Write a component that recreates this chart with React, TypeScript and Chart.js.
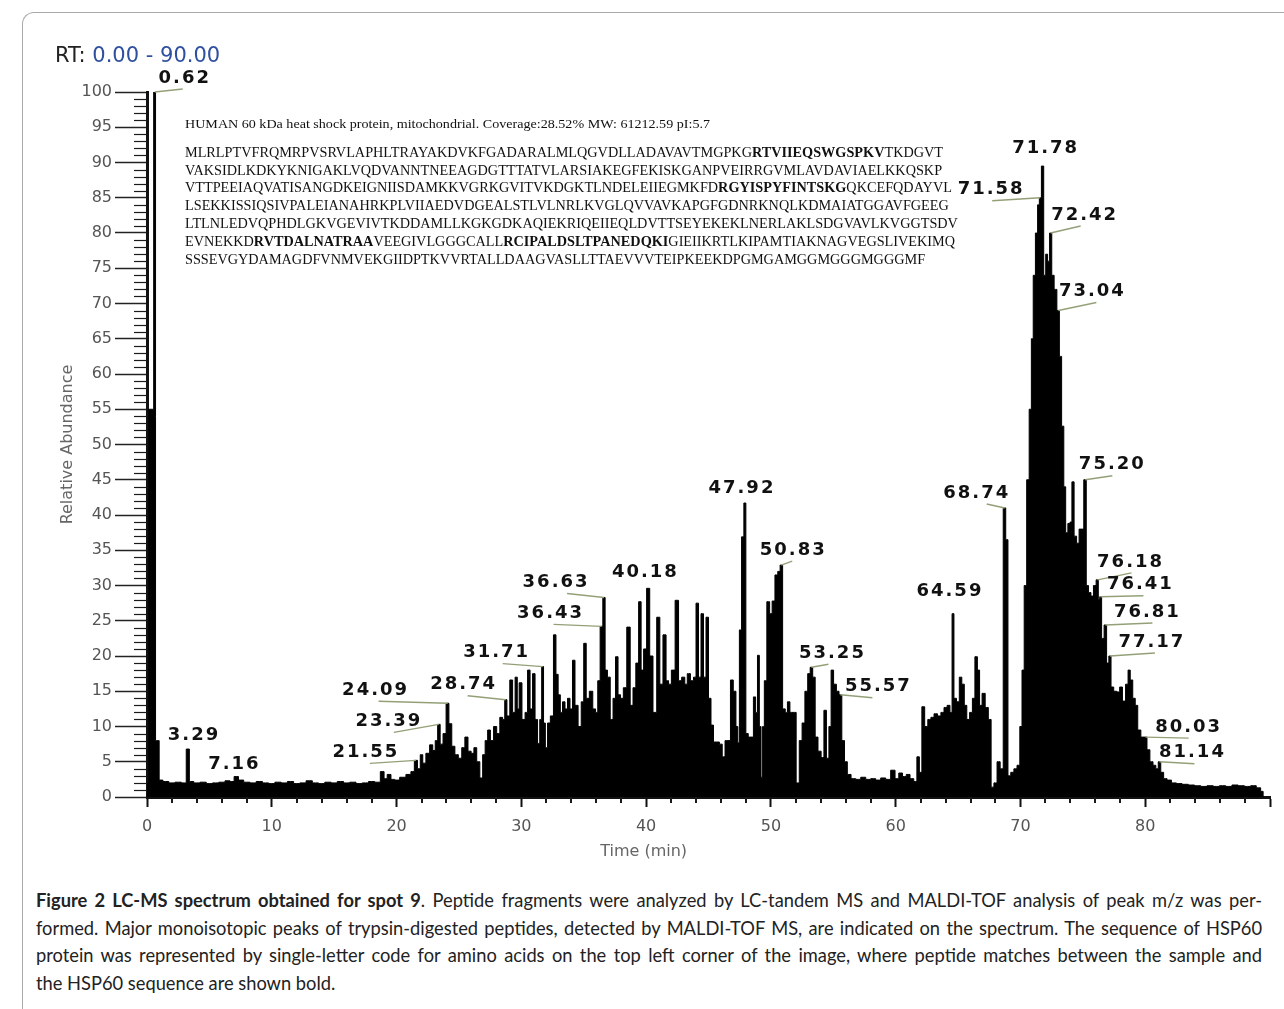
import React, { useEffect, useRef } from 'react';
import { Chart, registerables } from 'chart.js';

Chart.register(...registerables);

// ---------- DATA ----------
// chromatogram: [retention time (min), relative abundance (%)]
const chromatogram: [number, number][] = [
  [0, 0], [0.1, 2], [0.2, 55], [0.45, 55], [0.62, 100], [0.75, 8], [0.9, 8], [1.05, 2.4], [1.5, 2.2], [2, 2],
  [2.5, 2.1], [3, 2], [3.29, 6.8], [3.5, 2.2], [4, 2], [4.5, 2.1], [5, 1.9], [5.5, 2], [6, 2.1], [6.5, 2.3],
  [6.8, 2.2], [7.16, 2.9], [7.5, 2.4], [8, 2.1], [8.5, 2], [9, 2.2], [9.5, 2], [10, 1.9], [10.5, 2.1], [11, 2],
  [11.5, 2.2], [12, 1.9], [12.5, 2], [13, 2.3], [13.5, 2], [14, 1.9], [14.5, 2.1], [15, 2], [15.5, 2.2], [16, 2],
  [16.5, 2.1], [17, 1.9], [17.5, 2], [18, 2.2], [18.5, 2.1], [18.9, 3.6], [19.1, 2.6], [19.4, 3.2], [19.7, 2.5], [20, 2.4],
  [20.5, 2.8], [21, 3.2], [21.3, 3.6], [21.55, 5.2], [21.8, 4], [22, 6], [22.2, 4.8], [22.5, 6.2], [22.8, 7.4], [23, 6.6],
  [23.2, 8], [23.39, 10.3], [23.6, 7.5], [23.85, 9], [24.09, 13.3], [24.3, 10.4], [24.55, 7.2], [24.8, 6], [25.1, 5.5], [25.35, 7],
  [25.6, 8.5], [25.85, 6.5], [26.1, 6.2], [26.3, 7], [26.55, 5], [26.8, 2.7], [27, 6], [27.2, 8], [27.4, 9.5], [27.65, 8],
  [27.9, 10], [28.15, 9], [28.4, 11.3], [28.6, 11], [28.74, 13.8], [28.95, 11.5], [29.2, 16.6], [29.4, 12], [29.6, 17], [29.75, 12.5],
  [29.9, 16.2], [30.2, 11], [30.4, 12], [30.6, 18], [30.8, 12.5], [31, 17.5], [31.2, 11], [31.4, 7.6], [31.55, 11], [31.71, 18.5],
  [31.85, 10.5], [32, 7], [32.2, 10.5], [32.45, 11.5], [32.7, 23], [32.85, 17.4], [33.05, 14.5], [33.2, 12], [33.4, 13.5], [33.6, 12.5],
  [33.8, 14], [34, 12.5], [34.2, 19.4], [34.4, 13], [34.7, 10], [34.9, 13.5], [35.1, 21.8], [35.3, 14], [35.6, 15], [35.85, 12.5],
  [36.05, 12], [36.2, 16.5], [36.43, 24.2], [36.63, 28.3], [36.8, 18], [37, 17], [37.25, 11], [37.45, 14], [37.65, 19.9], [37.85, 14.5],
  [38.05, 14], [38.3, 15.5], [38.6, 24.1], [38.85, 13], [39.05, 15.5], [39.3, 19], [39.5, 27.7], [39.7, 18], [39.9, 21], [40.18, 29.6],
  [40.4, 20], [40.7, 12], [41, 25.5], [41.2, 16], [41.5, 23], [41.7, 16.5], [41.9, 16], [42.15, 18], [42.5, 27.9], [42.7, 16.5],
  [43, 17], [43.2, 16], [43.4, 17.5], [43.7, 16.5], [43.9, 17], [44.1, 27.5], [44.3, 17], [44.5, 26], [44.7, 17], [44.9, 25.5],
  [45.1, 14], [45.3, 10.2], [45.5, 7.8], [45.75, 7.8], [46, 7.5], [46.2, 5.7], [46.45, 8], [46.65, 8], [46.87, 16.6], [47.1, 15],
  [47.3, 10], [47.4, 7.7], [47.55, 23.7], [47.75, 36.9], [47.92, 41.7], [48.07, 9], [48.3, 8.5], [48.5, 8.5], [48.7, 14.2], [48.85, 12],
  [49, 20.1], [49.15, 10], [49.27, 2.8], [49.4, 10], [49.55, 16.5], [49.8, 27.7], [50, 26], [50.2, 27.8], [50.45, 31.5], [50.65, 32],
  [50.83, 32.9], [51.05, 12.5], [51.25, 12], [51.4, 13.5], [51.65, 12], [51.9, 12], [52.15, 2], [52.4, 8], [52.6, 10.5], [52.85, 15],
  [53.05, 17.5], [53.25, 18.4], [53.45, 17], [53.65, 8.5], [53.9, 6.5], [54.15, 5.6], [54.35, 12.3], [54.55, 5.5], [54.75, 10], [54.9, 18],
  [55.15, 16], [55.35, 15], [55.57, 14.5], [55.8, 8], [56, 5], [56.25, 3.2], [56.6, 2.6], [57, 2.5], [57.4, 2.8], [57.8, 2.5],
  [58.2, 2.6], [58.6, 2.4], [59, 2.7], [59.4, 2.5], [59.8, 3.8], [60.1, 2.6], [60.4, 3.4], [60.7, 2.9], [61, 3.2], [61.3, 2.6],
  [61.6, 2.2], [61.8, 5.7], [62, 3.5], [62.2, 12.8], [62.45, 10], [62.7, 11], [62.95, 11.3], [63.2, 11.8], [63.5, 11.5], [63.75, 12],
  [64, 12.7], [64.25, 13], [64.45, 12], [64.59, 26], [64.75, 14], [65, 13.5], [65.2, 17], [65.4, 16], [65.6, 13], [65.8, 11],
  [66.05, 12], [66.25, 14], [66.45, 19.9], [66.65, 18], [66.8, 13], [67.05, 14.7], [67.3, 12.7], [67.55, 11], [67.75, 1.4], [68, 2],
  [68.25, 5], [68.5, 4], [68.74, 41], [68.9, 36.5], [69.1, 3], [69.35, 3.5], [69.6, 4], [69.85, 4.5], [70.05, 10], [70.2, 18],
  [70.4, 30], [70.6, 45], [70.8, 55], [70.95, 65], [71.1, 74], [71.3, 80], [71.45, 84], [71.58, 85], [71.78, 89.5], [71.95, 74],
  [72.1, 77], [72.25, 76], [72.42, 80], [72.6, 74], [72.8, 72], [73.04, 69], [73.2, 62.5], [73.4, 52.6], [73.55, 44], [73.7, 37.5],
  [73.9, 38.8], [74.05, 39], [74.2, 44.7], [74.4, 37], [74.6, 36], [74.8, 38], [74.95, 38], [75.2, 45], [75.35, 30], [75.55, 29],
  [75.75, 28.5], [75.95, 30], [76.18, 30.8], [76.3, 28], [76.41, 28.4], [76.6, 22.5], [76.81, 24.4], [77, 19], [77.17, 20], [77.35, 15.6],
  [77.6, 15], [77.85, 14.9], [78.05, 15.6], [78.3, 13.6], [78.55, 16], [78.7, 18], [78.9, 16.6], [79.1, 14], [79.3, 13], [79.5, 9.5],
  [79.8, 8.5], [80.03, 8.5], [80.25, 6.7], [80.5, 5], [80.75, 4.5], [80.95, 4], [81.14, 5], [81.35, 3.5], [81.6, 2.6], [81.9, 2.4],
  [82.3, 2], [82.7, 1.9], [83.2, 1.8], [83.7, 1.7], [84.2, 1.6], [84.7, 1.5], [85.2, 1.6], [85.7, 1.5], [86.2, 1.6], [86.7, 1.5],
  [87.2, 1.7], [87.7, 1.6], [88.2, 1.5], [88.7, 1.6], [89.1, 1.3], [89.4, 0.8], [89.5, 0],
];

// labelled peaks (retention times)
const peakRTs = [
  0.62, 3.29, 7.16, 21.55, 23.39, 24.09, 28.74, 31.71, 36.43, 36.63, 40.18, 47.92, 50.83, 53.25,
  55.57, 64.59, 68.74, 71.58, 71.78, 72.42, 73.04, 75.2, 76.18, 76.41, 76.81, 77.17, 80.03, 81.14,
];

const xTickLabels = [0, 10, 20, 30, 40, 50, 60, 70, 80];
const yTickLabels = [0, 5, 10, 15, 20, 25, 30, 35, 40, 45, 50, 55, 60, 65, 70, 75, 80, 85, 90, 95, 100];

const rangeText = ['RT:', ' 0.00 - 90.00'];
const xTitle = 'Time (min)';
const yTitle = 'Relative Abundance';

const headerText = 'HUMAN 60 kDa heat shock protein, mitochondrial. Coverage:28.52% MW: 61212.59 pI:5.7';
const sequenceLines: [string, boolean][][] = [
  [['MLRLPTVFRQMRPVSRVLAPHLTRAYAKDVKFGADARALMLQGVDLLADAVAVTMGPKG', false], ['RTVIIEQSWGSPKV', true], ['TKDGVT', false]],
  [['VAKSIDLKDKYKNIGAKLVQDVANNTNEEAGDGTTTATVLARSIAKEGFEKISKGANPVEIRRGVMLAVDAVIAELKKQSKP', false]],
  [['VTTPEEIAQVATISANGDKEIGNIISDAMKKVGRKGVITVKDGKTLNDELEIIEGMKFD', false], ['RGYISPYFINTSKG', true], ['QKCEFQDAYVL', false]],
  [['LSEKKISSIQSIVPALEIANAHRKPLVIIAEDVDGEALSTLVLNRLKVGLQVVAVKAPGFGDNRKNQLKDMAIATGGAVFGEEG', false]],
  [['LTLNLEDVQPHDLGKVGEVIVTKDDAMLLKGKGDKAQIEKRIQEIIEQLDVTTSEYEKEKLNERLAKLSDGVAVLKVGGTSDV', false]],
  [['EVNEKKD', false], ['RVTDALNATRAA', true], ['VEEGIVLGGGCALL', false], ['RCIPALDSLTPANEDQKI', true], ['GIEIIKRTLKIPAMTIAKNAGVEGSLIVEKIMQ', false]],
  [['SSSEVGYDAMAGDFVNMVEKGIIDPTKVVRTALLDAAGVASLLTTAEVVVTEIPKEEKDPGMGAMGGMGGGMGGGMF', false]],
];

const captionBold = 'Figure 2 LC-MS spectrum obtained for spot 9';
const captionLines = [
  '. Peptide fragments were analyzed by LC-tandem MS and MALDI-TOF analysis of peak m/z was per-',
  'formed. Major monoisotopic peaks of trypsin-digested peptides, detected by MALDI-TOF MS, are indicated on the spectrum. The sequence of HSP60',
  'protein was represented by single-letter code for amino acids on the top left corner of the image, where peptide matches between the sample and',
  'the HSP60 sequence are shown bold.',
];

// ---------- LAYOUT / STYLE (label placement in px relative to the peak top) ----------
// [dx, dy, leaderDx]
const labelPlacement: [number, number, number][] = [
  [30, -14, 28], [6, -14, 0], [-2, -12, 0], [-50, -8, -46], [-50, -3, -45], [-72, -13, -69], [-42, -15, -38],
  [-46, -14, -40], [-51, -13, -48], [-48, -15, -37], [-3, -16, 0], [-3, -15, 0], [12, -15, 11], [21, -14, 17],
  [38, -8, 32], [-3, -22, 0], [-28, -15, -18], [-49, -8, -48], [3, -18, 0], [34, -18, 30], [34, -19, 38],
  [27, -15, 27], [33, -18, 34], [40, -12, 43], [42, -13, 47], [42, -14, 45], [43, -10, 43], [33, -9, 35],
];

const AXIS_GRAY = '#555';
const LEADER = '#93a077';

const decorPlugin = {
  id: 'decor',
  afterDraw(chart: any) {
    const { ctx, chartArea: area } = chart;
    const xs = chart.scales.x;
    const ys = chart.scales.y;
    ctx.save();

    // minor ticks on y (ruler)
    ctx.strokeStyle = '#1a1a1a';
    ctx.lineWidth = 1.2;
    for (let v = 0; v <= 100; v += 1) {
      if (yTickLabels.includes(v)) continue;
      const y = Math.round(ys.getPixelForValue(v)) + 0.5;
      ctx.beginPath();
      ctx.moveTo(area.left - 13, y);
      ctx.lineTo(area.left, y);
      ctx.stroke();
    }
    // minor ticks on x
    ctx.lineWidth = 2;
    for (let t = 2; t < 90; t += 2) {
      if (t % 10 === 0) continue;
      const x = Math.round(xs.getPixelForValue(t));
      ctx.beginPath();
      ctx.moveTo(x, area.bottom);
      ctx.lineTo(x, area.bottom + 6);
      ctx.stroke();
    }

    // RT range header
    ctx.textBaseline = 'middle';
    ctx.textAlign = 'left';
    ctx.font = '21px "DejaVu Sans"';
    ctx.fillStyle = '#222';
    ctx.fillText(rangeText[0], 25, 17);
    const w0 = ctx.measureText(rangeText[0]).width;
    ctx.fillStyle = '#2f4f9f';
    ctx.fillText(rangeText[1], 25 + w0, 17);

    // axis titles
    ctx.fillStyle = '#666';
    ctx.font = '16px "DejaVu Sans"';
    ctx.textAlign = 'center';
    ctx.fillText(xTitle, xs.getPixelForValue(39.8), area.bottom + 55);
    ctx.save();
    ctx.translate(38, ys.getPixelForValue(50));
    ctx.rotate(-Math.PI / 2);
    ctx.fillText(yTitle, 0, 0);
    ctx.restore();

    // sequence block
    ctx.textAlign = 'left';
    ctx.fillStyle = '#111';
    ctx.font = '13px "Liberation Serif"';
    const hw = ctx.measureText(headerText).width;
    ctx.save();
    ctx.translate(155, 85);
    ctx.scale(525 / hw, 1);
    ctx.fillText(headerText, 0, 0);
    ctx.restore();

    const measureLine = (line: [string, boolean][]) => {
      let w = 0;
      for (const [txt, bold] of line) {
        ctx.font = (bold ? 'bold ' : '') + '14px "Liberation Serif"';
        w += ctx.measureText(txt).width;
      }
      return w;
    };
    const sx = 758 / measureLine(sequenceLines[0]);
    sequenceLines.forEach((line, i) => {
      ctx.save();
      ctx.translate(155, 113 + i * 17.9);
      ctx.scale(sx, 1);
      let x = 0;
      for (const [txt, bold] of line) {
        ctx.font = (bold ? 'bold ' : '') + '14px "Liberation Serif"';
        ctx.fillText(txt, x, 0);
        x += ctx.measureText(txt).width;
      }
      ctx.restore();
    });

    // peak labels with leader lines
    peakRTs.forEach((rt, i) => {
      const pt = chromatogram.find((p) => p[0] === rt);
      if (!pt) return;
      const px = xs.getPixelForValue(rt);
      const py = ys.getPixelForValue(pt[1]);
      const [dx, dy, lx] = labelPlacement[i];
      if (lx !== 0) {
        ctx.strokeStyle = LEADER;
        ctx.lineWidth = 1.4;
        ctx.beginPath();
        ctx.moveTo(px, py);
        ctx.lineTo(px + lx, py + dy + 11);
        ctx.stroke();
      }
      ctx.fillStyle = '#111';
      ctx.font = 'bold 18px "DejaVu Sans"';
      (ctx as any).letterSpacing = '2px';
      ctx.textAlign = 'center';
      ctx.fillText(rt.toFixed(2), px + dx, py + dy);
      (ctx as any).letterSpacing = '0px';
    });

    ctx.restore();
  },
};

export default function App() {
  const canvasRef = useRef<HTMLCanvasElement>(null);

  useEffect(() => {
    if (!canvasRef.current) return;
    const chart = new Chart(canvasRef.current, {
      type: 'line',
      data: {
        datasets: [
          {
            data: chromatogram.map(([t, v]) => ({ x: t, y: v })),
            stepped: 'middle',
            fill: 'origin',
            borderColor: '#000',
            backgroundColor: '#000',
            borderWidth: 1,
            pointRadius: 0,
          },
        ],
      },
      options: {
        animation: false,
        responsive: true,
        maintainAspectRatio: false,
        layout: { padding: { top: 52, right: 14, bottom: 0, left: 0 } },
        plugins: { legend: { display: false }, tooltip: { enabled: false } },
        scales: {
          x: {
            type: 'linear',
            min: 0,
            max: 90,
            afterFit: (s: any) => {
              s.height = 73;
            },
            ticks: {
              stepSize: 10,
              autoSkip: false,
              maxRotation: 0,
              padding: 10,
              color: AXIS_GRAY,
              font: { family: 'DejaVu Sans', size: 16 },
              callback: (v: any) => (xTickLabels.includes(Number(v)) ? String(v) : ''),
            },
            grid: { drawOnChartArea: false, drawTicks: true, tickLength: 10, tickWidth: 2, tickColor: '#111' },
            border: { display: true, width: 3, color: '#111' },
          },
          y: {
            type: 'linear',
            min: 0,
            max: 100,
            afterFit: (s: any) => {
              s.width = 117;
            },
            ticks: {
              stepSize: 5,
              autoSkip: false,
              padding: 3,
              color: AXIS_GRAY,
              font: { family: 'DejaVu Sans', size: 16 },
              callback: (v: any) => (yTickLabels.includes(Number(v)) ? String(v) : ''),
            },
            grid: { drawOnChartArea: false, drawTicks: true, tickLength: 32, tickWidth: 1.5, tickColor: '#222' },
            border: { display: true, width: 3, color: '#111' },
          },
        },
      } as any,
      plugins: [decorPlugin],
    });
    return () => chart.destroy();
  }, []);

  return (
    <div
      style={{
        position: 'absolute',
        left: 0,
        top: 0,
        width: 1284,
        height: 1009,
        overflow: 'hidden',
        background: '#fff',
      }}
    >
      <div
        style={{
          position: 'absolute',
          left: 22,
          top: 12,
          width: 1320,
          height: 1100,
          borderLeft: '1.5px solid #a9a9a9',
          borderTop: '1.5px solid #a9a9a9',
          borderTopLeftRadius: 12,
        }}
      />
      <div style={{ position: 'absolute', left: 30, top: 40, width: 1254, height: 830 }}>
        <canvas ref={canvasRef} />
      </div>
      <div
        style={{
          position: 'absolute',
          left: 36,
          top: 887,
          width: 1226,
          fontFamily: 'Lato, "Open Sans", sans-serif',
          fontSize: 18.3,
          lineHeight: '27.7px',
          color: '#222',
        }}
      >
        {captionLines.map((line, i) => (
          <div
            key={i}
            style={{
              textAlign: i < 3 ? 'justify' : 'left',
              textAlignLast: i < 3 ? 'justify' : 'left',
            }}
          >
            {i === 0 ? <b>{captionBold}</b> : null}
            {line}
          </div>
        ))}
      </div>
    </div>
  );
}
